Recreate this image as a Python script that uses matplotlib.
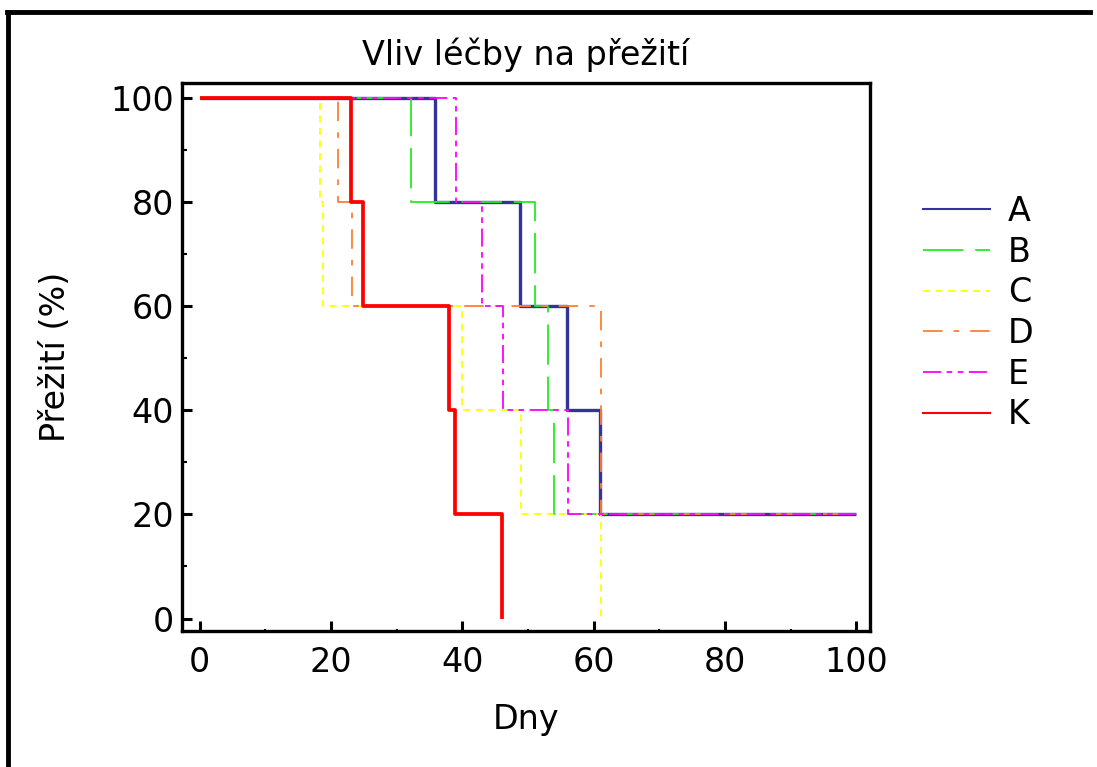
import matplotlib
matplotlib.use("Agg")
import matplotlib.pyplot as plt
from matplotlib.lines import Line2D
from matplotlib.ticker import MultipleLocator

plt.rcParams['font.family'] = ['DejaVu Sans']
plt.rcParams['lines.scale_dashes'] = False

# ---- data (days, survival %) ----
labels = ["A", "B", "C", "D", "E", "K"]
A_days = [0, 35.8, 48.8, 55.9, 60.9, 100]
A_surv = [100, 80, 60, 40, 20, 20]
B_days = [0, 32.2, 51.1, 53.0, 53.9, 100]
B_surv = [100, 80, 60, 40, 20, 20]
C_days = [0, 18.3, 18.8, 39.9, 49.0, 61.1]
C_surv = [100, 80, 60, 40, 20, 0]
D_days = [0, 21.1, 23.2, 61.1, 100]
D_surv = [100, 80, 60, 20, 20]
E_days = [0, 39.0, 43.0, 46.2, 56.1, 100]
E_surv = [100, 80, 60, 40, 20, 20]
K_days = [0, 23.0, 24.8, 38.0, 38.9, 46.0]
K_surv = [100, 80, 60, 40, 20, 0]

x_ticks = [0, 20, 40, 60, 80, 100]
y_ticks = [0, 20, 40, 60, 80, 100]

series = [
    (A_days, A_surv, dict(color='#333399', lw=2.4, ls='-')),
    (B_days, B_surv, dict(color='#22ee22', lw=1.3, ls=(0, (29, 8.6)))),
    (C_days, C_surv, dict(color='#ffff00', lw=1.3, ls=(0, (5, 4)))),
    (D_days, D_surv, dict(color='#ff8030', lw=1.3, ls=(0, (14, 8, 4, 8)))),
    (E_days, E_surv, dict(color='#ff00ff', lw=1.3, ls=(0, (13, 4, 4, 4, 4, 4)))),
    (K_days, K_surv, dict(color='#ff0000', lw=2.7, ls='-')),
]

FS = 24

fig = plt.figure(figsize=(10.97, 7.67), dpi=100)
ax = fig.add_axes([182/1097, 1-631/767, (870-182)/1097, (631-83)/767])

handles = []
for (d, s, st), lab in zip(series, labels):
    ax.step(d, s, where='post', color=st['color'], lw=st['lw'], ls=st['ls'],
            solid_capstyle='butt', dash_capstyle='butt')
    handles.append(Line2D([], [], color=st['color'], lw=1.5 if st['ls'] == '-' else 1.3,
                          ls=st['ls'], dash_capstyle='butt'))

ax.set_xlim(-2.7, 102.1)
ax.set_ylim(-2.4, 102.9)
ax.set_xticks(x_ticks)
ax.set_yticks(y_ticks)
ax.xaxis.set_minor_locator(MultipleLocator(10))
ax.yaxis.set_minor_locator(MultipleLocator(10))
ax.tick_params(which='major', direction='in', length=7.5, width=2.2,
               labelsize=FS, top=False, right=False)
ax.tick_params(axis='x', which='major', pad=11)
ax.tick_params(axis='y', which='major', pad=6)
ax.tick_params(axis='x', which='minor', direction='in', length=1.8, width=1.5)
ax.tick_params(axis='y', which='minor', direction='in', length=3.5, width=1.5)
for sp in ax.spines.values():
    sp.set_linewidth(2.4)
    sp.set_color('black')

ax.set_title("Vliv léčby na přežití", fontsize=FS, pad=13)
ax.set_xlabel("Dny", fontsize=FS, labelpad=17)
ax.set_ylabel("Přežití (%)", fontsize=FS, labelpad=27)

fig.legend(handles, labels, loc='upper left', bbox_to_anchor=(923/1097, 1-195/767),
           frameon=False, fontsize=FS, handlelength=2.0, handletextpad=0.54,
           labelspacing=0.23, borderaxespad=0, borderpad=0)

# outer border (left and top)
fig.add_artist(Line2D([8/1097, 8/1097], [0, 1-12/767], transform=fig.transFigure,
                      color='black', lw=3.5))
fig.add_artist(Line2D([6.7/1097, 1090/1097], [1-12/767, 1-12/767], transform=fig.transFigure,
                      color='black', lw=3.5))

fig.savefig("out.png", dpi=100, facecolor='white')
